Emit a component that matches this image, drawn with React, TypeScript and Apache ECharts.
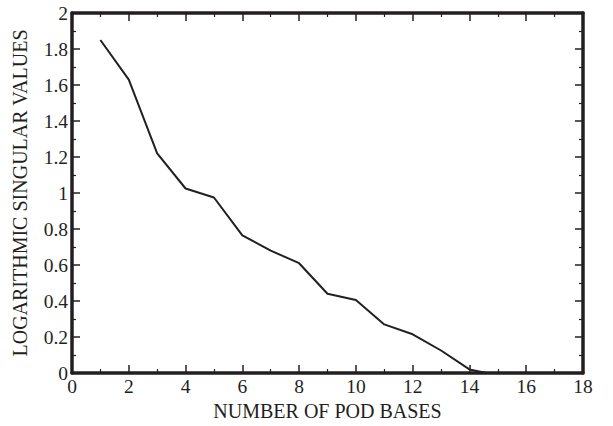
import React, { useEffect, useRef } from "react";
import * as echarts from "echarts";

const podBases = [1, 2, 3, 4, 5, 6, 7, 8, 9, 10, 11, 12, 13, 14, 14.6];
const logSingularValues = [1.85, 1.63, 1.22, 1.025, 0.975, 0.765, 0.68, 0.61, 0.44, 0.405, 0.27, 0.215, 0.125, 0.02, 0];
const xTitle = "NUMBER OF POD BASES";
const yTitle = "LOGARITHMIC SINGULAR VALUES";

const INK = "#231f20";
const FONT = "'Liberation Serif', 'Times New Roman', serif";

export default function App() {
  const ref = useRef<HTMLDivElement>(null);
  useEffect(() => {
    if (!ref.current) return;
    const chart = echarts.init(ref.current, undefined, { renderer: "svg" });
    const axisLine = { show: true, onZero: false, lineStyle: { color: INK, width: 3.5 } };
    const axisTick = { show: true, inside: true, length: 8, lineStyle: { color: INK, width: 1.5 } };
    const minorTick = { show: true, splitNumber: 2, length: 4, lineStyle: { color: INK, width: 1.2 } };
    chart.setOption({
      animation: false,
      grid: { left: 72, right: 30, top: 13, bottom: 53, containLabel: false },
      xAxis: [
        {
          type: "value", position: "bottom", min: 0, max: 18, interval: 2,
          axisLine, axisTick, minorTick, splitLine: { show: false },
          axisLabel: { color: INK, fontFamily: FONT, fontSize: 19.5, margin: 3 },
          name: xTitle, nameLocation: "middle", nameGap: 26,
          nameTextStyle: { color: INK, fontFamily: FONT, fontSize: 20 },
        },
        {
          type: "value", position: "top", min: 0, max: 18, interval: 2,
          axisLine, axisTick, minorTick, splitLine: { show: false },
          axisLabel: { show: false },
        },
      ],
      yAxis: [
        {
          type: "value", position: "left", min: 0, max: 2, interval: 0.2,
          axisLine, axisTick, minorTick, splitLine: { show: false },
          axisLabel: { color: INK, fontFamily: FONT, fontSize: 19.5, margin: 4 },
          name: yTitle, nameLocation: "middle", nameGap: 42, nameRotate: 90,
          nameTextStyle: { color: INK, fontFamily: FONT, fontSize: 20 },
        },
        {
          type: "value", position: "right", min: 0, max: 2, interval: 0.2,
          axisLine, axisTick, minorTick, splitLine: { show: false },
          axisLabel: { show: false },
        },
      ],
      series: [
        {
          type: "line",
          xAxisIndex: 0,
          yAxisIndex: 0,
          data: podBases.map((x, i) => [x, logSingularValues[i]]),
          showSymbol: false,
          symbol: "none",
          lineStyle: { color: INK, width: 2 },
        },
      ],
    });
    return () => chart.dispose();
  }, []);
  return <div ref={ref} style={{ width: 613, height: 426, position: "absolute", left: 0, top: 0 }} />;
}
